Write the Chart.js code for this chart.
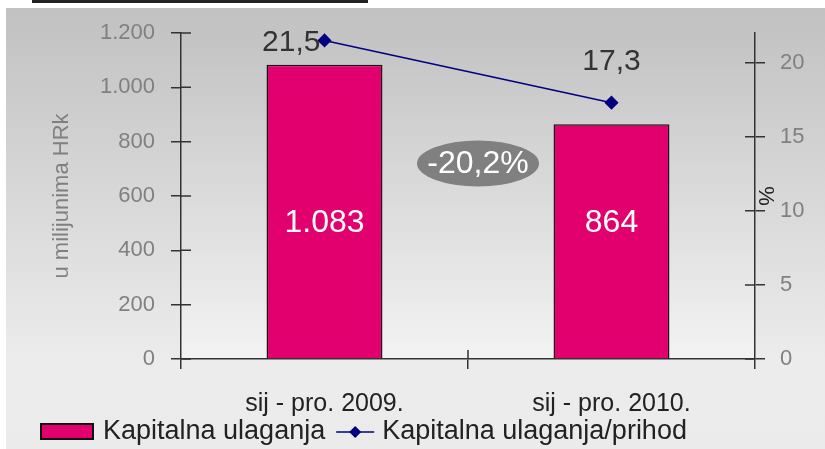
<!DOCTYPE html>
<html>
<head>
<meta charset="utf-8">
<script src="https://cdn.jsdelivr.net/npm/chart.js@4.4.0/dist/chart.umd.min.js"></script>
<style>
  html, body { margin:0; padding:0; background:#fff; }
  #wrap { width:825px; height:449px; position:relative; }
</style>
</head>
<body>
<div id="wrap"><canvas id="chart" width="825" height="449"></canvas></div>
<script>
const categories = ['sij - pro. 2009.', 'sij - pro. 2010.'];
const ulaganja = [1083, 864];          // u milijunima HRK
const udioPrihod = [21.5, 17.3];       // %
const changeLabel = '-20,2%';
const leftTicks = [0, 200, 400, 600, 800, 1000, 1200];
const rightTicks = [0, 5, 10, 15, 20];
const seriesNames = ['Kapitalna ulaganja', 'Kapitalna ulaganja/prihod'];

const FONT = "'Liberation Sans', Arial, sans-serif";
const MAGENTA = '#e2006f';
const NAVY = '#000080';
const AXIS = '#333333';

const fmtThousand = v => String(v).replace(/\B(?=(\d{3})+(?!\d))/g, '.');
const fmtDec = v => v.toFixed(1).replace('.', ',');

const decor = {
  id: 'decor',
  beforeDraw(chart){
    const {ctx, chartArea:a} = chart;
    ctx.save();
    ctx.fillStyle = '#fff';
    ctx.fillRect(0, 0, 825, 449);
    let g = ctx.createLinearGradient(0, 8, 0, 449);
    g.addColorStop(0, '#c1c1c1');
    g.addColorStop(0.8, '#ececec');
    g.addColorStop(1, '#ebebeb');
    ctx.fillStyle = g;
    ctx.fillRect(6, 8, 819, 441);
    g = ctx.createLinearGradient(0, a.top, 0, a.bottom);
    g.addColorStop(0, '#c3c3c3');
    g.addColorStop(1, '#f3f3f3');
    ctx.fillStyle = g;
    ctx.fillRect(a.left, a.top, a.right - a.left, a.bottom - a.top);
    // what is left of the underlined title above the chart
    ctx.fillStyle = '#222';
    ctx.fillRect(32, 0, 336, 3);
    ctx.restore();
  },
  afterDatasetsDraw(chart){
    const {ctx, scales} = chart;
    const bars = chart.getDatasetMeta(1).data;
    const pts = chart.getDatasetMeta(0).data;
    ctx.save();
    ctx.textAlign = 'center';
    ctx.textBaseline = 'middle';
    ctx.font = '32px ' + FONT;
    ctx.fillStyle = '#fff';
    const labelY = scales.y.getPixelForValue(500);
    bars.forEach((b, i) => {
      ctx.fillText(fmtThousand(ulaganja[i]), b.x, labelY);
    });
    ctx.font = '30px ' + FONT;
    ctx.fillStyle = '#333';
    ctx.textAlign = 'right';
    ctx.fillText(fmtDec(udioPrihod[0]), pts[0].x - 4, pts[0].y + 2);
    ctx.textAlign = 'center';
    ctx.fillText(fmtDec(udioPrihod[1]), pts[1].x, pts[1].y - 41);
    // change bubble
    const cx = (bars[0].x + bars[1].x) / 2 + 10;
    const cy = scales.y.getPixelForValue(720);
    ctx.fillStyle = '#808080';
    ctx.beginPath();
    ctx.ellipse(cx, cy, 61, 23, 0, 0, Math.PI * 2);
    ctx.fill();
    ctx.font = '32px ' + FONT;
    ctx.fillStyle = '#fff';
    ctx.fillText(changeLabel, cx, cy + 1);
    ctx.restore();
  },
  afterDraw(chart){
    const {ctx, scales} = chart;
    const a = chart.chartArea;
    ctx.save();
    ctx.strokeStyle = AXIS;
    ctx.lineWidth = 1.5;
    ctx.beginPath();
    leftTicks.forEach(v => { const y = scales.y.getPixelForValue(v); ctx.moveTo(a.left, y); ctx.lineTo(a.left + 10, y); });
    rightTicks.forEach(v => { const y = scales.y1.getPixelForValue(v); ctx.moveTo(a.right - 10, y); ctx.lineTo(a.right, y); });
    const mid = (scales.x.getPixelForValue(0) + scales.x.getPixelForValue(1)) / 2;
    ctx.moveTo(mid, a.bottom - 9); ctx.lineTo(mid, a.bottom);
    ctx.stroke();
    // legend
    ctx.font = '27px ' + FONT;
    ctx.textBaseline = 'middle';
    ctx.textAlign = 'left';
    const ly = 432;
    ctx.fillStyle = MAGENTA;
    ctx.fillRect(41, ly - 8, 52, 15);
    ctx.strokeStyle = '#111';
    ctx.lineWidth = 2;
    ctx.strokeRect(41, ly - 8, 52, 15);
    ctx.fillStyle = '#222';
    ctx.fillText(seriesNames[0], 103, ly);
    const x1 = 103 + ctx.measureText(seriesNames[0]).width + 11;
    ctx.strokeStyle = NAVY;
    ctx.lineWidth = 1.5;
    ctx.beginPath(); ctx.moveTo(x1, ly); ctx.lineTo(x1 + 38, ly); ctx.stroke();
    ctx.fillStyle = NAVY;
    const dx = x1 + 19;
    ctx.beginPath(); ctx.moveTo(dx, ly - 6); ctx.lineTo(dx + 6, ly); ctx.lineTo(dx, ly + 6); ctx.lineTo(dx - 6, ly); ctx.closePath(); ctx.fill();
    ctx.fillStyle = '#222';
    ctx.fillText(seriesNames[1], x1 + 46, ly);
    ctx.restore();
  }
};

const tickFont = { family: FONT, size: 22 };

new Chart(document.getElementById('chart'), {
  type: 'bar',
  data: {
    labels: categories,
    datasets: [
      {
        type: 'line', label: seriesNames[1], data: udioPrihod, yAxisID: 'y1', order: 1,
        borderColor: NAVY, borderWidth: 1.5, backgroundColor: NAVY,
        pointStyle: 'rectRot', pointRadius: 6, pointHoverRadius: 6, tension: 0
      },
      {
        type: 'bar', label: seriesNames[0], data: ulaganja, yAxisID: 'y', order: 2,
        backgroundColor: MAGENTA, borderColor: '#151515', borderWidth: 1.5,
        barPercentage: 0.404, categoryPercentage: 1
      }
    ]
  },
  options: {
    responsive: false,
    animation: false,
    events: [],
    layout: { padding: { top: 33, left: 0, right: 0, bottom: 0 } },
    plugins: { legend: { display: false }, tooltip: { enabled: false } },
    scales: {
      x: {
        position: 'bottom',
        afterFit: s => { s.height = 90; },
        grid: { offset: true, drawOnChartArea: false, tickLength: 10, color: AXIS, lineWidth: 1.5 },
        border: { color: AXIS, width: 1.5 },
        ticks: { color: '#222', font: { family: FONT, size: 25 }, padding: 20, maxRotation: 0 }
      },
      y: {
        position: 'left', min: 0, max: 1200,
        afterFit: s => { s.width = 181; },
        grid: { drawOnChartArea: false, tickLength: 10, color: AXIS, lineWidth: 1.5 },
        border: { color: AXIS, width: 1.5 },
        ticks: { stepSize: 200, color: '#808080', font: tickFont, padding: 16, callback: v => fmtThousand(v) },
        title: { display: true, text: 'u milijunima HRk', color: '#808080', font: { family: FONT, size: 22 }, padding: { top: 49 } }
      },
      y1: {
        position: 'right', min: 0, max: 22,
        afterFit: s => { s.width = 70; },
        afterBuildTicks: s => { s.ticks = s.ticks.filter(t => rightTicks.includes(t.value)); },
        grid: { drawOnChartArea: false, tickLength: 10, color: AXIS, lineWidth: 1.5 },
        border: { color: AXIS, width: 1.5 },
        ticks: { stepSize: 5, color: '#808080', font: tickFont, padding: 15 },
        title: { display: true, text: '%', color: '#222', font: { family: FONT, size: 22 }, padding: { top: 47 } }
      }
    }
  },
  plugins: [decor]
});
</script>
</body>
</html>
